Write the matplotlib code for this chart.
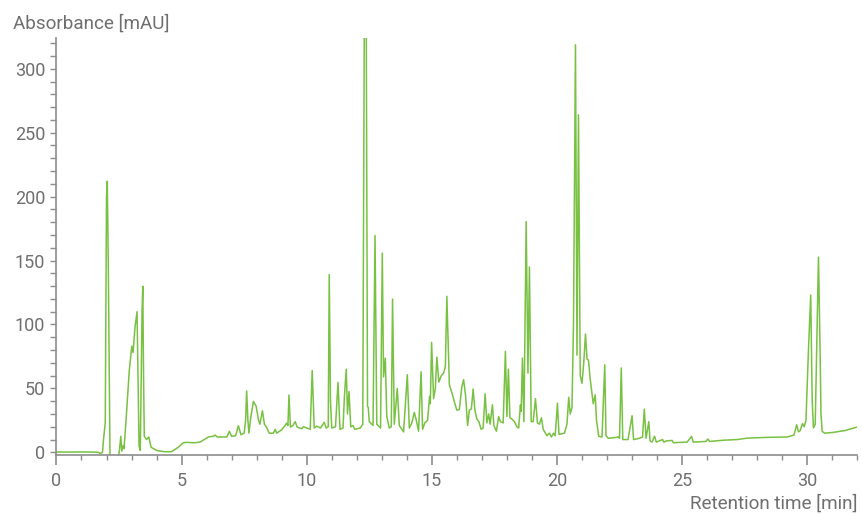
import matplotlib
matplotlib.use("Agg")
import matplotlib.pyplot as plt
from matplotlib.ticker import MultipleLocator

# Chromatogram trace (retention time [min], absorbance [mAU])
rt = [
    0.0, 0.5, 1.0, 1.5, 1.68, 1.75, 1.84, 1.88, 1.95, 2.00, 2.03, 2.07, 2.14, 2.30, 2.48,
    2.52, 2.57, 2.61, 2.66, 2.70, 2.78, 2.91, 3.01, 3.06, 3.14, 3.22, 3.26, 3.30, 3.35,
    3.42, 3.45, 3.48, 3.51, 3.60, 3.69, 3.78, 4.0, 4.3, 4.6, 4.87, 5.07, 5.2, 5.5, 5.74,
    6.07, 6.25, 6.34, 6.42, 6.81, 6.91, 7.0, 7.16, 7.27, 7.37, 7.5, 7.56, 7.6, 7.65, 7.69,
    7.77, 7.87, 7.98, 8.07, 8.13, 8.23, 8.31, 8.4, 8.5, 8.67, 8.74, 8.8, 9.0, 9.1, 9.2,
    9.25, 9.29, 9.35, 9.45, 9.54, 9.62, 9.79, 9.87, 10.0, 10.14, 10.22, 10.3, 10.4, 10.55,
    10.7, 10.78, 10.86, 10.9, 10.95, 11.0, 11.15, 11.25, 11.33, 11.45, 11.51, 11.58, 11.63,
    11.69, 11.76, 11.85, 11.92, 12.14, 12.24, 12.3, 12.38, 12.43, 12.46, 12.5, 12.65, 12.73,
    12.8, 12.95, 13.02, 13.07, 13.14, 13.2, 13.3, 13.38, 13.43, 13.5, 13.62, 13.7, 13.87,
    14.02, 14.1, 14.2, 14.3, 14.38, 14.47, 14.57, 14.63, 14.72, 14.83, 14.91, 14.94, 14.99,
    15.07, 15.14, 15.2, 15.28, 15.38, 15.47, 15.54, 15.6, 15.7, 15.81, 15.92, 16.0, 16.1,
    16.2, 16.27, 16.35, 16.43, 16.5, 16.58, 16.65, 16.72, 16.8, 16.88, 16.97, 17.05, 17.13,
    17.2, 17.27, 17.33, 17.42, 17.48, 17.58, 17.67, 17.74, 17.85, 17.94, 18.0, 18.06, 18.12,
    18.2, 18.3, 18.4, 18.47, 18.54, 18.57, 18.62, 18.68, 18.77, 18.84, 18.9, 18.97, 19.05,
    19.14, 19.22, 19.3, 19.38, 19.45, 19.6, 19.7, 19.78, 19.86, 19.93, 20.02, 20.08, 20.3,
    20.4, 20.47, 20.53, 20.6, 20.66, 20.74, 20.8, 20.86, 20.93, 21.0, 21.07, 21.14, 21.2,
    21.26, 21.33, 21.45, 21.53, 21.58, 21.67, 21.8, 21.91, 21.96, 22.05, 22.3, 22.45, 22.5,
    22.57, 22.63, 22.84, 23.0, 23.06, 23.3, 23.42, 23.49, 23.56, 23.67, 23.72, 23.8, 23.9,
    23.97, 24.22, 24.27, 24.38, 24.6, 24.65, 24.93, 25.2, 25.38, 25.45, 25.95, 26.03, 26.1,
    26.67, 27.2, 27.6, 28.4, 29.2, 29.47, 29.58, 29.65, 29.72, 29.81, 29.88, 29.95, 30.05,
    30.14, 30.2, 30.25, 30.32, 30.45, 30.51, 30.55, 30.6, 30.7, 31.0, 31.5, 32.0,
]
absorbance = [
    0.3, 0.2, 0.3, 0.2, 0.0, -1.0, 0.0, 10, 23, 200, 212, 150, -4, -6, -3,
    2, 12.5, 1, 5, 3, 25, 64, 83, 78, 98, 110, 60, 5, 1.5,
    110, 130, 60, 12.5, 10, 12, 4, 1.5, 0.5, 0.5, 4, 7.5, 7.8, 7.5, 8,
    12, 12.5, 13.5, 12, 12, 16.4, 12.5, 13, 20.8, 13.8, 15, 25, 48, 25, 15,
    28, 39.8, 36, 25.7, 22, 32.5, 22, 19.5, 15, 15, 18, 15, 17.6, 20.2, 22.8,
    21, 44.8, 19.7, 21, 24, 19.7, 18.5, 20, 19, 18, 64, 19, 20.5, 19,
    23.5, 19, 20, 139, 40, 19, 20, 54.7, 18, 19, 45, 65, 30,
    47.6, 20, 21, 18, 19, 22, 330, 330, 36, 35, 24, 21, 169.6,
    22, 19, 155.8, 59, 73.7, 28, 19, 20, 119.8, 22, 50, 21, 16,
    60.7, 19, 23, 31.2, 25, 16.5, 63, 18, 23, 25, 43.7, 38, 86,
    42, 50, 74.5, 55, 60, 62, 67, 122, 53, 46, 38, 33, 33.5,
    51.5, 56.8, 44, 21, 33, 34, 49.5, 33, 26, 24, 18, 19, 45.8,
    23, 30, 22, 37.2, 21, 16.5, 28, 24, 23, 79, 28, 65, 27,
    26, 24, 20, 19, 37, 32, 73.7, 24, 180.5, 62, 145, 24, 24,
    42, 23, 22, 27, 18, 13, 15, 12, 15, 13, 38.5, 14, 15,
    22, 43, 30, 35, 100, 318.7, 76, 264, 60, 54, 70, 92.5, 73,
    72, 57, 38, 45, 25, 12.5, 12, 68.5, 13, 11, 11.5, 12, 11,
    66, 10, 10, 28.6, 10, 11, 12, 33.8, 11, 24, 9, 8, 12.6,
    8, 10, 8, 9, 9.3, 7.5, 7.8, 8, 12.4, 8, 8.5, 10.4, 8.5,
    9.5, 10, 11.1, 11.7, 12, 13.5, 21.6, 16, 17, 22.5, 20, 25, 80,
    123, 40, 19, 22, 152.7, 85, 30, 16.3, 15, 15.5, 17, 19.8,
]

x_ticks = [0, 5, 10, 15, 20, 25, 30]
y_ticks = [0, 50, 100, 150, 200, 250, 300]

TEXT = "#6f6f6f"
AXIS = "#8c8c8c"
GREEN = "#78c142"

plt.rcParams["font.family"] = ["Roboto", "DejaVu Sans"]

fig = plt.figure(figsize=(8.62, 5.14), dpi=100)
ax = fig.add_axes([0.0655, 0.115, 0.929, 0.811])

ax.plot(rt, absorbance, color=GREEN, lw=1.1)

ax.set_xlim(0, 32)
ax.set_ylim(-2, 324)
ax.set_xticks(x_ticks)
ax.set_yticks(y_ticks)
ax.xaxis.set_minor_locator(MultipleLocator(1))
ax.yaxis.set_minor_locator(MultipleLocator(10))

for side in ("top", "right"):
    ax.spines[side].set_visible(False)
for side in ("left", "bottom"):
    ax.spines[side].set_color(AXIS)
    ax.spines[side].set_linewidth(1.2)

ax.tick_params(axis="x", which="major", length=7, width=1.2, color=AXIS,
               labelsize=13, labelcolor=TEXT, pad=5)
ax.tick_params(axis="x", which="minor", length=3.5, width=1.0, color=AXIS)
ax.tick_params(axis="y", which="both", length=4, width=1.0, color=AXIS,
               labelsize=13, labelcolor=TEXT, pad=4)

fig.text(13 / 862, 0.954, "Absorbance [mAU]", ha="left", va="center",
         fontsize=13.6, color=TEXT)
fig.text(858 / 862, 0.021, "Retention time [min]", ha="right", va="center",
         fontsize=13.6, color=TEXT)

fig.savefig("out.png", dpi=100)
plt.close(fig)
